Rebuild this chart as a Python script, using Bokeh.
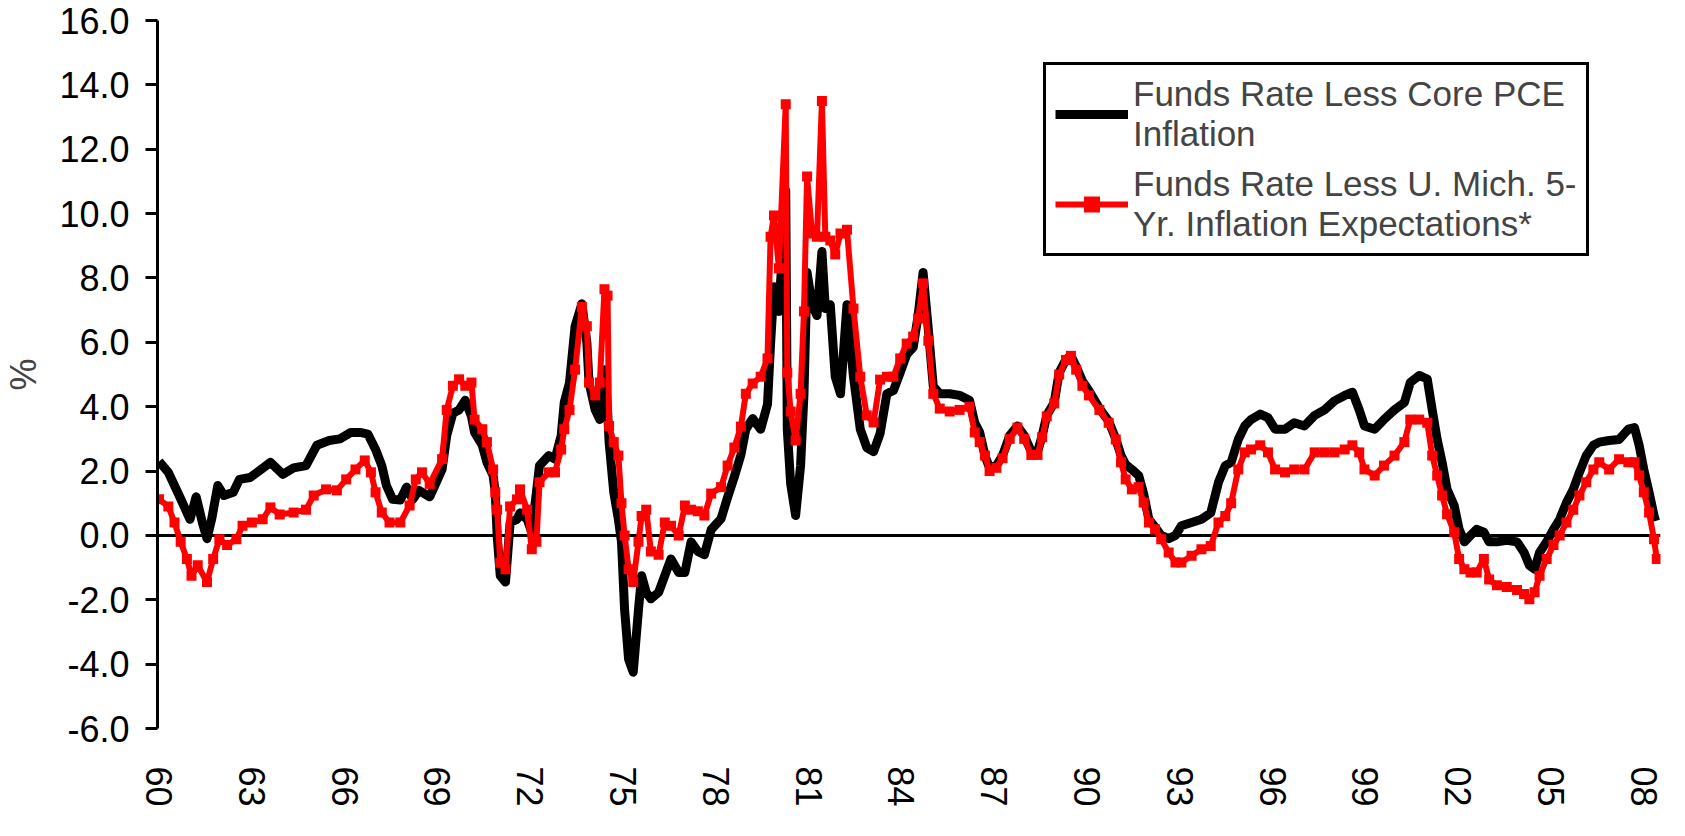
from bokeh.plotting import figure
from bokeh.models import FixedTicker, NumeralTickFormatter, Span, Legend, LegendItem, Range1d
from bokeh.embed import file_html
from bokeh.resources import INLINE

# ---- data ----
core_years = [1960.0, 1960.3, 1960.65, 1961.0, 1961.2, 1961.4, 1961.55, 1961.7, 1961.9, 1962.1,
              1962.4, 1962.6, 1962.95, 1963.3, 1963.6, 1964.0, 1964.35, 1964.75, 1965.1, 1965.5,
              1965.85, 1966.2, 1966.5, 1966.75, 1967.0, 1967.2, 1967.35, 1967.55, 1967.8, 1968.0,
              1968.2, 1968.4, 1968.75, 1969.15, 1969.3, 1969.5, 1969.7, 1969.9, 1970.1, 1970.2,
              1970.45, 1970.6, 1970.8, 1970.87, 1970.93, 1971.03, 1971.2, 1971.35, 1971.57, 1971.67,
              1971.9, 1972.05, 1972.2, 1972.3, 1972.6, 1972.8, 1973.0, 1973.1, 1973.27, 1973.45,
              1973.67, 1973.83, 1973.9, 1974.1, 1974.25, 1974.4, 1974.5, 1974.55, 1974.7, 1974.85,
              1974.95, 1975.05, 1975.18, 1975.33, 1975.5, 1975.6, 1975.75, 1975.9, 1976.15, 1976.35,
              1976.55, 1976.8, 1977.0, 1977.2, 1977.42, 1977.63, 1977.85, 1978.17, 1978.38, 1978.6,
              1978.81, 1978.97, 1979.19, 1979.45, 1979.67, 1979.77, 1979.88, 1980.04, 1980.26, 1980.31,
              1980.42, 1980.58, 1980.74, 1980.85, 1980.95, 1981.11, 1981.27, 1981.43, 1981.54, 1981.7,
              1981.86, 1982.03, 1982.24, 1982.45, 1982.67, 1982.88, 1983.1, 1983.31, 1983.53, 1983.74,
              1983.96, 1984.17, 1984.38, 1984.54, 1984.7, 1984.87, 1985.03, 1985.24, 1985.56, 1985.88,
              1986.2, 1986.37, 1986.53, 1986.7, 1986.85, 1987.07, 1987.27, 1987.5, 1987.75, 1987.97,
              1988.2, 1988.4, 1988.55, 1988.7, 1988.94, 1989.1, 1989.32, 1989.48, 1989.65, 1989.85,
              1990.06, 1990.4, 1990.7, 1990.93, 1991.1, 1991.25, 1991.45, 1991.67, 1991.83, 1992.0,
              1992.2, 1992.4, 1992.64, 1992.86, 1993.05, 1993.38, 1993.7, 1994.0, 1994.25, 1994.47,
              1994.66, 1994.89, 1995.1, 1995.3, 1995.6, 1995.85, 1996.08, 1996.4, 1996.7, 1997.03,
              1997.36, 1997.68, 1998.0, 1998.33, 1998.58, 1998.8, 1998.97, 1999.3, 1999.6, 1999.94,
              2000.26, 2000.45, 2000.74, 2001.0, 2001.16, 2001.32, 2001.48, 2001.64, 2001.87, 2002.03,
              2002.2, 2002.4, 2002.6, 2002.83, 2003.0, 2003.25, 2003.57, 2003.9, 2004.13, 2004.3,
              2004.47, 2004.63, 2004.86, 2005.08, 2005.28, 2005.5, 2005.72, 2005.92, 2006.14, 2006.37,
              2006.56, 2006.88, 2007.2, 2007.5, 2007.7, 2007.85, 2008.0, 2008.17, 2008.33, 2008.38]
core_vals = [2.3, 1.96, 1.24, 0.5, 1.2, 0.4, -0.1, 0.5, 1.55, 1.24,
             1.34, 1.74, 1.8, 2.05, 2.27, 1.9, 2.1, 2.17, 2.8, 2.95,
             3.0, 3.2, 3.2, 3.15, 2.67, 2.17, 1.55, 1.12, 1.1, 1.5,
             1.12, 1.4, 1.2, 2.05, 3.1, 3.8, 3.9, 4.2, 3.7, 3.2,
             2.8, 2.27, 1.86, 1.34, 0.0, -1.25, -1.45, 0.4, 0.5, 0.7,
             0.5, 0.1, 1.34, 2.17, 2.48, 2.37, 3.1, 4.13, 4.75, 6.5,
             7.2, 6.0, 4.75, 3.9, 3.6, 5.15, 3.9, 2.9, 1.34, 0.5,
             -0.2, -2.3, -3.85, -4.25, -2.3, -1.25, -1.77, -1.97, -1.77, -1.25,
             -0.73, -1.15, -1.15, -0.2, -0.5, -0.6, 0.18, 0.52, 1.18, 1.83,
             2.5, 3.3, 3.63, 3.3, 4.07, 5.96, 7.73, 6.96, 10.7, 3.3,
             1.6, 0.62, 2.17, 4.4, 8.17, 7.17, 6.83, 8.82, 7.05, 7.17,
             4.93, 4.4, 7.17, 4.93, 3.3, 2.73, 2.6, 3.17, 4.4, 4.5,
             5.06, 5.62, 5.84, 6.83, 8.17, 6.4, 4.63, 4.4, 4.4, 4.35,
             4.2, 3.5, 3.2, 2.48, 2.1, 2.17, 2.48, 3.1, 3.4, 3.1,
             2.6, 2.6, 3.1, 3.73, 4.13, 5.06, 5.47, 5.58, 5.25, 4.8,
             4.5, 3.95, 3.55, 3.0, 2.48, 2.2, 2.05, 1.86, 1.3, 0.5,
             0.25, 0.0, -0.1, 0.0, 0.3, 0.4, 0.5, 0.7, 1.65, 2.17,
             2.27, 2.98, 3.4, 3.6, 3.77, 3.66, 3.3, 3.3, 3.5, 3.4,
             3.73, 3.9, 4.18, 4.35, 4.45, 3.9, 3.4, 3.3, 3.6, 3.9,
             4.13, 4.75, 4.97, 4.86, 3.9, 2.98, 2.27, 1.43, 0.93, 0.19,
             -0.2, 0.0, 0.19, 0.1, -0.2, -0.2, -0.15, -0.2, -0.53, -0.93,
             -1.05, -0.53, -0.2, 0.19, 0.5, 1.02, 1.43, 1.96, 2.48, 2.8,
             2.9, 2.95, 2.98, 3.3, 3.35, 2.8, 2.05, 1.34, 0.62, 0.45]

mich_years = [1960.0, 1960.3, 1960.5, 1960.7, 1960.9, 1961.05, 1961.25, 1961.55, 1961.75, 1961.95,
              1962.2, 1962.5, 1962.7, 1963.0, 1963.35, 1963.6, 1963.9, 1964.35, 1964.75, 1965.0,
              1965.4, 1965.75, 1966.05, 1966.35, 1966.65, 1966.85, 1967.0, 1967.2, 1967.45, 1967.8,
              1968.1, 1968.3, 1968.5, 1968.75, 1969.15, 1969.3, 1969.5, 1969.7, 1969.9, 1970.1,
              1970.2, 1970.45, 1970.6, 1970.8, 1970.87, 1970.93, 1971.03, 1971.2, 1971.35, 1971.57,
              1971.67, 1971.9, 1972.05, 1972.2, 1972.3, 1972.6, 1972.8, 1973.0, 1973.1, 1973.27,
              1973.45, 1973.67, 1973.83, 1973.9, 1974.1, 1974.25, 1974.4, 1974.5, 1974.55, 1974.7,
              1974.85, 1974.95, 1975.05, 1975.18, 1975.33, 1975.5, 1975.6, 1975.75, 1975.9, 1976.15,
              1976.35, 1976.55, 1976.8, 1977.0, 1977.2, 1977.42, 1977.63, 1977.85, 1978.17, 1978.38,
              1978.6, 1978.81, 1978.97, 1979.19, 1979.45, 1979.67, 1979.77, 1979.88, 1980.04, 1980.26,
              1980.31, 1980.42, 1980.58, 1980.74, 1980.85, 1980.95, 1981.11, 1981.27, 1981.43, 1981.54,
              1981.7, 1981.86, 1982.03, 1982.24, 1982.45, 1982.67, 1982.88, 1983.1, 1983.31, 1983.53,
              1983.74, 1983.96, 1984.17, 1984.38, 1984.54, 1984.7, 1984.87, 1985.03, 1985.24, 1985.56,
              1985.88, 1986.2, 1986.37, 1986.53, 1986.7, 1986.85, 1987.07, 1987.27, 1987.5, 1987.75,
              1987.97, 1988.2, 1988.4, 1988.55, 1988.7, 1988.94, 1989.1, 1989.32, 1989.48, 1989.65,
              1989.85, 1990.06, 1990.4, 1990.7, 1990.93, 1991.1, 1991.25, 1991.45, 1991.67, 1991.83,
              1992.0, 1992.2, 1992.4, 1992.64, 1992.86, 1993.05, 1993.38, 1993.7, 1994.0, 1994.25,
              1994.47, 1994.66, 1994.89, 1995.1, 1995.3, 1995.6, 1995.85, 1996.08, 1996.4, 1996.7,
              1997.03, 1997.36, 1997.68, 1998.0, 1998.33, 1998.58, 1998.8, 1998.97, 1999.3, 1999.6,
              1999.94, 2000.26, 2000.45, 2000.74, 2001.0, 2001.16, 2001.32, 2001.48, 2001.64, 2001.87,
              2002.03, 2002.2, 2002.4, 2002.6, 2002.83, 2003.0, 2003.25, 2003.57, 2003.9, 2004.13,
              2004.3, 2004.47, 2004.63, 2004.86, 2005.08, 2005.28, 2005.5, 2005.72, 2005.92, 2006.14,
              2006.37, 2006.56, 2006.88, 2007.2, 2007.5, 2007.7, 2007.85, 2008.0, 2008.17, 2008.33,
              2008.42]
mich_vals = [1.12, 0.9, 0.4, -0.2, -0.73, -1.25, -0.93, -1.45, -0.73, -0.12,
             -0.3, -0.12, 0.3, 0.4, 0.5, 0.87, 0.65, 0.71, 0.8, 1.24,
             1.43, 1.4, 1.74, 2.05, 2.33, 1.96, 1.34, 0.71, 0.4, 0.4,
             0.93, 1.74, 1.96, 1.6, 2.37, 3.9, 4.65, 4.85, 4.65, 4.75,
             3.6, 3.3, 2.9, 2.05, 1.34, 0.8, -0.85, -1.05, 0.9, 1.12,
             1.43, 0.8, -0.43, -0.2, 1.65, 1.96, 1.96, 2.67, 3.3, 3.9,
             5.15, 7.1, 6.5, 4.75, 4.35, 4.75, 7.65, 7.45, 3.4, 2.9,
             2.48, 1.0, 0.0, -1.05, -1.45, -0.2, 0.6, 0.8, -0.5, -0.6,
             0.4, 0.3, 0.0, 0.93, 0.8, 0.75, 0.62, 1.3, 1.5, 2.17,
             2.73, 3.38, 4.4, 4.72, 4.93, 5.5, 9.28, 9.94, 8.3, 13.4,
             5.06, 3.85, 2.95, 4.4, 6.96, 11.15, 9.38, 9.28, 13.5, 9.28,
             9.16, 8.73, 9.38, 9.5, 7.05, 4.93, 3.73, 3.51, 4.84, 4.93,
             4.93, 5.5, 5.96, 6.18, 6.74, 7.83, 6.05, 4.4, 3.94, 3.85,
             3.9, 4.0, 3.2, 2.9, 2.48, 2.0, 2.1, 2.4, 3.0, 3.35,
             3.0, 2.5, 2.5, 3.05, 3.7, 4.1, 5.0, 5.45, 5.58, 5.15,
             4.65, 4.35, 3.9, 3.5, 2.98, 2.27, 1.74, 1.43, 1.5, 1.02,
             0.4, 0.19, -0.12, -0.53, -0.84, -0.84, -0.63, -0.43, -0.33, 0.4,
             0.6, 1.0, 2.05, 2.58, 2.67, 2.8, 2.58, 2.05, 1.96, 2.05,
             2.05, 2.58, 2.58, 2.58, 2.67, 2.8, 2.58, 2.05, 1.86, 2.17,
             2.48, 2.9, 3.6, 3.6, 3.5, 2.48, 1.86, 1.24, 0.66, 0.1,
             -0.73, -1.05, -1.15, -1.15, -0.73, -1.37, -1.55, -1.6, -1.7, -1.82,
             -1.98, -1.77, -1.25, -0.73, -0.3, 0.0, 0.4, 0.8, 1.24, 1.65,
             2.05, 2.27, 2.05, 2.37, 2.27, 2.27, 1.86, 1.34, 0.71, -0.12,
             -0.73]

tick_years = [1960, 1963, 1966, 1969, 1972, 1975, 1978, 1981, 1984,
              1987, 1990, 1993, 1996, 1999, 2002, 2005, 2008]
tick_labels = ["60", "63", "66", "69", "72", "75", "78", "81", "84",
               "87", "90", "93", "96", "99", "02", "05", "08"]
y_ticks = [-6, -4, -2, 0, 2, 4, 6, 8, 10, 12, 14, 16]

series_names = ["Funds Rate Less Core PCE\nInflation",
                "Funds Rate Less U. Mich. 5-\nYr. Inflation Expectations*"]

FONT = "Liberation Sans"

p = figure(width=1669, height=820, output_backend="svg", toolbar_location=None,
           x_range=Range1d(1959.95, 2008.54), y_range=Range1d(-6, 16),
           min_border_left=149, min_border_right=9, min_border_top=20, min_border_bottom=92)
p.outline_line_color = None
p.grid.visible = False
p.background_fill_color = "white"
p.border_fill_color = "white"

zero = Span(location=0, dimension="width", line_color="black", line_width=3, level="underlay")
p.add_layout(zero)

r_core = p.line(core_years, core_vals, line_color="black", line_width=9, line_join="round")
r_mich = p.line(mich_years, mich_vals, line_color="#ff0000", line_width=6, line_join="round")
r_mk = p.scatter(mich_years, mich_vals, marker="square", size=10,
                 fill_color="#ff0000", line_color=None)

# y axis
ya = p.yaxis[0]
ya.ticker = FixedTicker(ticks=y_ticks)
ya.formatter = NumeralTickFormatter(format="0.0")
ya.major_label_text_font = FONT
ya.major_label_text_font_size = "36px"
ya.major_label_text_color = "black"
ya.axis_line_width = 3
ya.major_tick_line_width = 3
ya.major_tick_out = 12
ya.major_tick_in = 0
ya.minor_tick_line_color = None
ya.major_label_standoff = 16
ya.axis_label = "%"
ya.axis_label_text_font = FONT
ya.axis_label_text_font_size = "36px"
ya.axis_label_text_font_style = "normal"
ya.axis_label_standoff = 12

# x axis
xa = p.xaxis[0]
xa.ticker = FixedTicker(ticks=tick_years)
xa.major_label_overrides = {y: lab for y, lab in zip(tick_years, tick_labels)}
xa.major_label_orientation = "vertical"
xa.major_label_text_font = FONT
xa.major_label_text_font_size = "36px"
xa.major_label_text_color = "black"
xa.axis_line_color = None
xa.major_tick_line_color = None
xa.minor_tick_line_color = None
xa.major_label_standoff = 32

legend = Legend(items=[LegendItem(label=series_names[0], renderers=[r_core]),
                       LegendItem(label=series_names[1], renderers=[r_mich, r_mk])],
                location=(886, 472))
legend.border_line_color = "black"
legend.border_line_width = 3
legend.border_line_alpha = 1
legend.background_fill_alpha = 1
legend.label_text_font = FONT
legend.label_text_font_size = "35px"
legend.label_text_line_height = 1.15
legend.glyph_width = 73
legend.glyph_height = 40
legend.label_standoff = 5
legend.padding = 9
legend.spacing = 10
legend.margin = 0
p.add_layout(legend)

open("out.html", "w").write(file_html(p, INLINE))
